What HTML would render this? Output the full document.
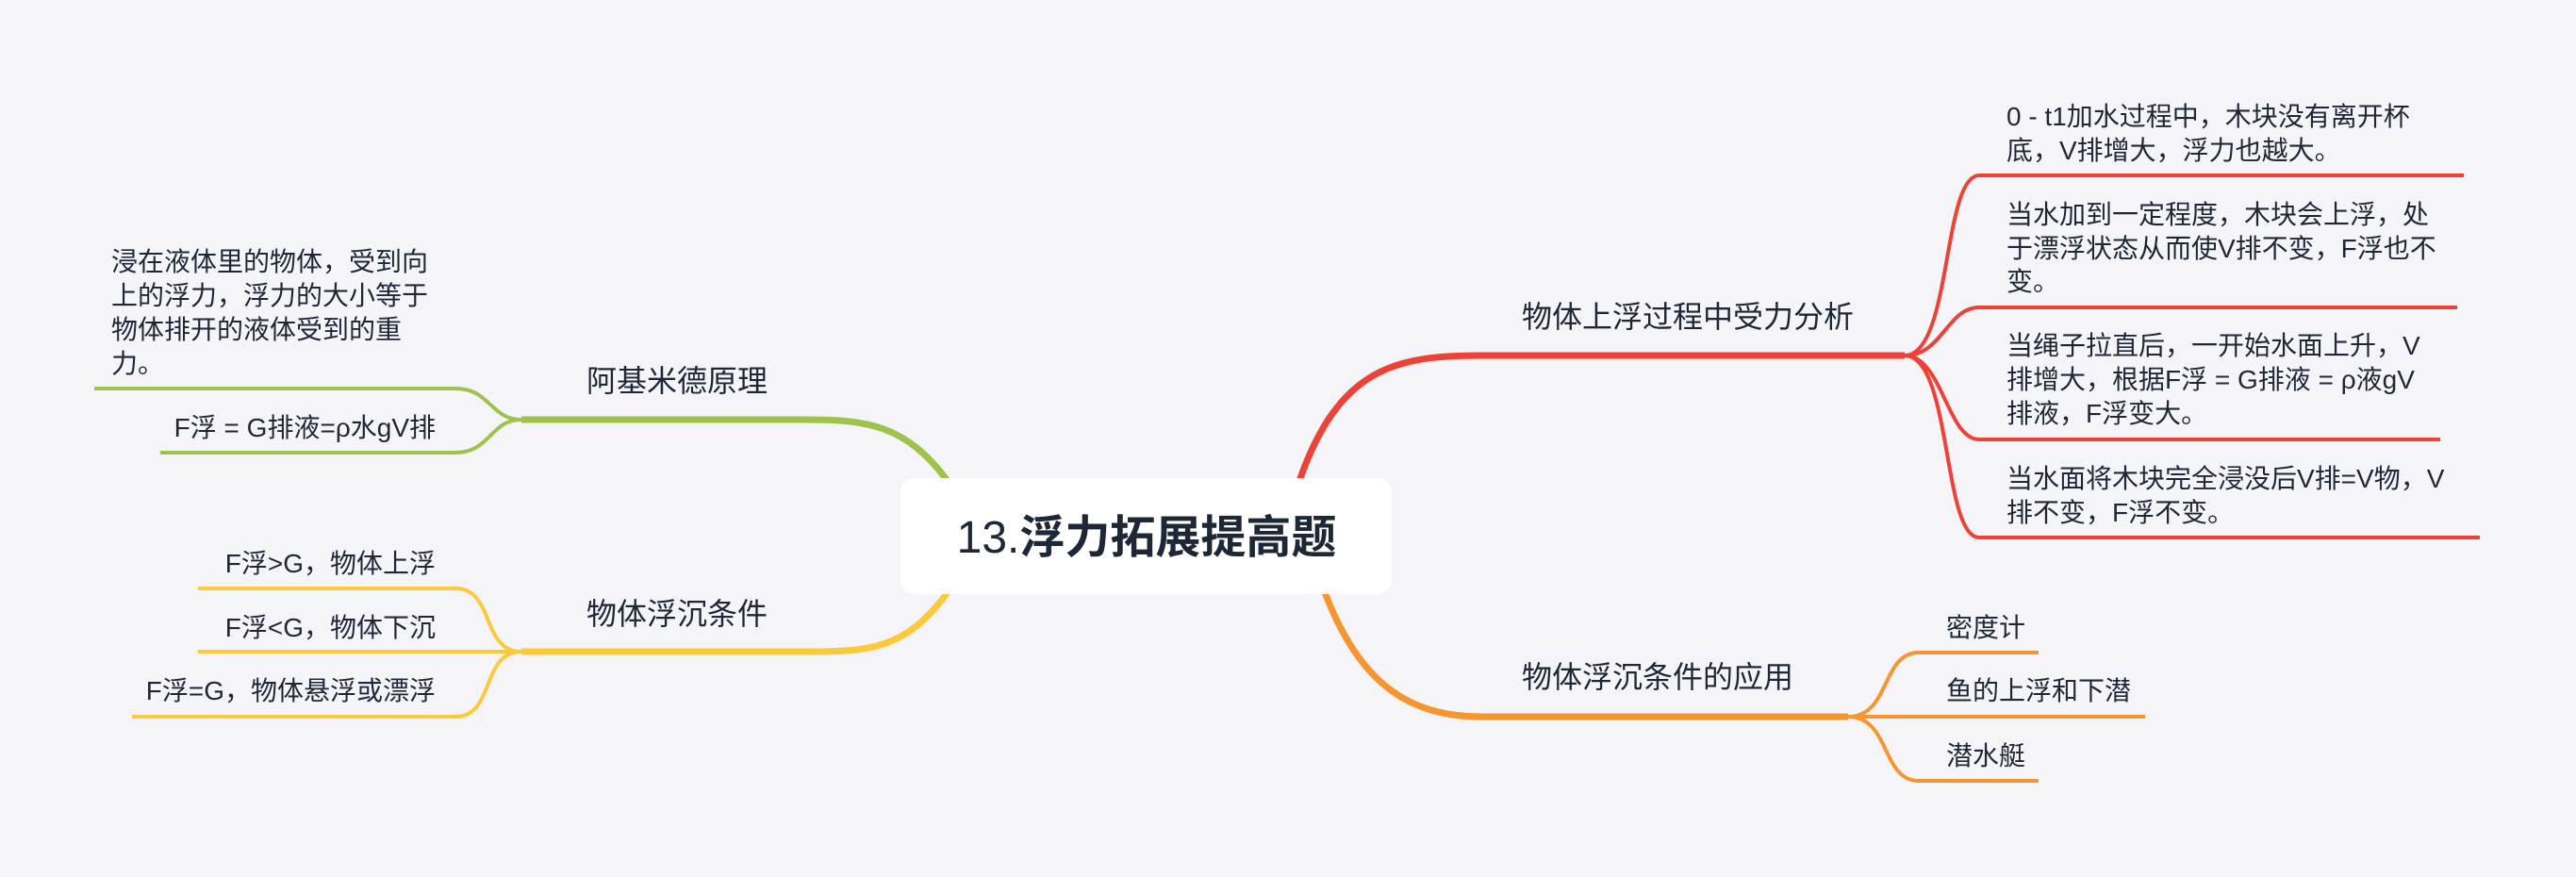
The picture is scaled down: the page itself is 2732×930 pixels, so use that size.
<!DOCTYPE html>
<html><head><meta charset="utf-8"><style>
html,body{margin:0;padding:0;background:#f5f5f9;}
svg{display:block}
text{font-family:"Liberation Sans","Noto Sans CJK SC",sans-serif;fill:#1e2736;}
.s{font-size:28px}
.m{font-size:32px}
</style></head><body>
<svg width="2732" height="930" viewBox="0 0 2732 930" xmlns="http://www.w3.org/2000/svg">
<rect width="2732" height="930" fill="#f5f5f9"/>
<!-- green -->
<g fill="none" stroke="#9dc34a">
<path d="M1005,510 C960,450 920,445 854,445 L553,445" stroke-width="7"/>
<path d="M553,445 C520,445 520,412 483,412 L100,412" stroke-width="4"/>
<path d="M553,445 C520,445 520,480 483,480 L170,480" stroke-width="4"/>
</g>
<!-- yellow -->
<g fill="none" stroke="#fcc93a">
<path d="M1005,628 C960,690 920,691 854,691 L553,691" stroke-width="7"/>
<path d="M553,691 C510,691 525,624 483,624 L210,624" stroke-width="4"/>
<path d="M553,691 L210,691" stroke-width="4"/>
<path d="M553,691 C510,691 525,760 483,760 L140,760" stroke-width="4"/>
</g>
<!-- red -->
<g fill="none" stroke="#ef4236">
<path d="M1378,510 C1420,390 1480,377 1570,377 L2020,377" stroke-width="7"/>
<path d="M2020,377 C2070,377 2060,186 2099,186 L2613,186" stroke-width="4"/>
<path d="M2020,377 C2060,377 2065,326 2099,326 L2606,326" stroke-width="4"/>
<path d="M2020,377 C2060,377 2065,466 2099,466 L2588,466" stroke-width="4"/>
<path d="M2020,377 C2070,377 2060,570 2099,570 L2630,570" stroke-width="4"/>
</g>
<!-- orange -->
<g fill="none" stroke="#f7952f">
<path d="M1405,628 C1440,720 1490,760 1570,760 L1960,760" stroke-width="7"/>
<path d="M1960,760 C2005,760 1995,692 2035,692 L2162,692" stroke-width="4"/>
<path d="M1960,760 L2275,760" stroke-width="4"/>
<path d="M1960,760 C2005,760 1995,828 2035,828 L2162,828" stroke-width="4"/>
</g>
<!-- center -->
<rect x="955" y="507" width="521" height="123" rx="14" fill="#ffffff"/>
<text x="1216" y="586" text-anchor="middle" style="font-size:48px"><tspan>13.</tspan><tspan font-weight="bold">浮力拓展提高题</tspan></text>
<!-- left labels -->
<text class="m" x="622" y="415">阿基米德原理</text>
<text class="m" x="622" y="662">物体浮沉条件</text>
<text class="s" x="118" y="287">浸在液体里的物体，受到向</text>
<text class="s" x="118" y="323">上的浮力，浮力的大小等于</text>
<text class="s" x="118" y="359">物体排开的液体受到的重</text>
<text class="s" x="118" y="395">力。</text>
<text class="s" x="462" y="463" text-anchor="end">F浮 = G排液=ρ水gV排</text>
<text class="s" x="462" y="607" text-anchor="end">F浮&gt;G，物体上浮</text>
<text class="s" x="462" y="675" text-anchor="end">F浮&lt;G，物体下沉</text>
<text class="s" x="462" y="742" text-anchor="end">F浮=G，物体悬浮或漂浮</text>
<!-- right labels -->
<text class="m" x="1614" y="347">物体上浮过程中受力分析</text>
<text class="m" x="1614" y="729">物体浮沉条件的应用</text>
<text class="s" x="2128" y="133">0 - t1加水过程中，木块没有离开杯</text>
<text class="s" x="2128" y="169">底，V排增大，浮力也越大。</text>
<text class="s" x="2128" y="237">当水加到一定程度，木块会上浮，处</text>
<text class="s" x="2128" y="273">于漂浮状态从而使V排不变，F浮也不</text>
<text class="s" x="2128" y="308">变。</text>
<text class="s" x="2128" y="376">当绳子拉直后，一开始水面上升，V</text>
<text class="s" x="2128" y="412">排增大，根据F浮 = G排液 = ρ液gV</text>
<text class="s" x="2128" y="448">排液，F浮变大。</text>
<text class="s" x="2128" y="517">当水面将木块完全浸没后V排=V物，V</text>
<text class="s" x="2128" y="553">排不变，F浮不变。</text>
<text class="s" x="2064" y="675">密度计</text>
<text class="s" x="2064" y="742">鱼的上浮和下潜</text>
<text class="s" x="2064" y="811">潜水艇</text>
</svg>
</body></html>
